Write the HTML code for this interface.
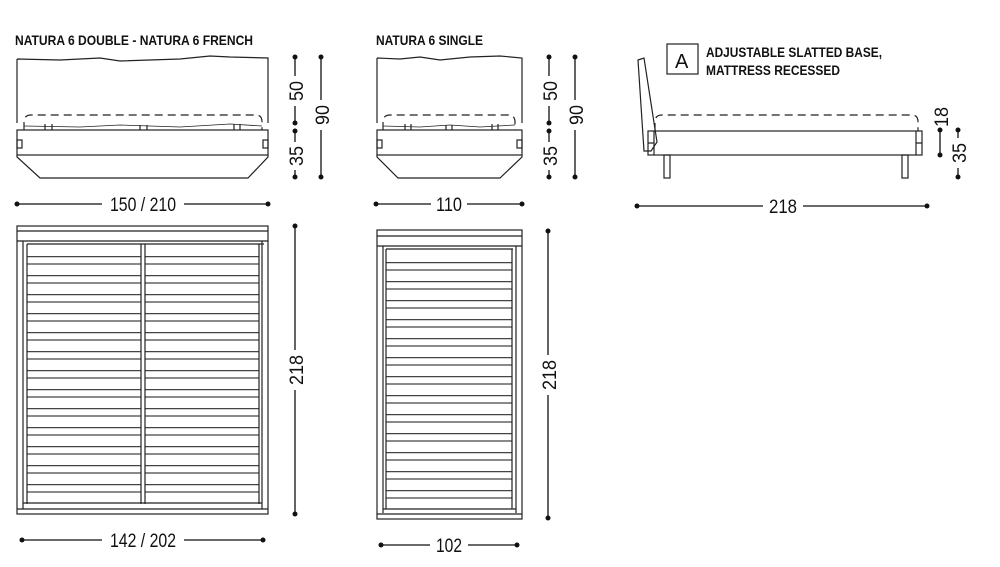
<!DOCTYPE html>
<html><head><meta charset="utf-8"><style>
html,body{margin:0;padding:0;background:#fff;width:1000px;height:567px;overflow:hidden}
svg{display:block}
text{font-family:"Liberation Sans",sans-serif;fill:#111}
</style></head><body>
<svg width="1000" height="567" viewBox="0 0 1000 567" xmlns="http://www.w3.org/2000/svg">
<defs>
<pattern id="sl" x="0" y="256" width="1000" height="19" patternUnits="userSpaceOnUse">
<path d="M0,0.6 H1000 M0,8 H1000" stroke="#444" stroke-width="1.3" fill="none"/>
</pattern>
<pattern id="sl2" x="0" y="262" width="1000" height="19" patternUnits="userSpaceOnUse">
<path d="M0,0.6 H1000 M0,8 H1000" stroke="#444" stroke-width="1.3" fill="none"/>
</pattern>
</defs>
<text x="15" y="45" font-size="14" font-weight="bold" textLength="238" lengthAdjust="spacingAndGlyphs">NATURA 6 DOUBLE - NATURA 6 FRENCH</text>
<text x="376" y="45" font-size="14" font-weight="bold" textLength="107" lengthAdjust="spacingAndGlyphs">NATURA 6 SINGLE</text>

<!-- DOUBLE FRONT -->
<g fill="none" stroke="#222" stroke-width="1.2">
<path d="M17,59 L60,60 L100,58 L120,61 L180,59 L210,56 L230,57 L268,58 L268,123 M17,59 L17,123"/>
<path d="M24,130 L24,122 Q24,115 31,115 L256,115 Q262,115 262,122 L262,130" stroke-dasharray="8,5"/>
<path d="M24,126 L80,127 L120,125 L180,127 L230,124 L262,126" stroke-width="0.8"/>
<rect x="17" y="130" width="251" height="25"/>
<path d="M17,155 L17,157 L40,178 L248,178 L268,157 L268,155"/>
<rect x="17" y="140" width="5" height="8"/><rect x="263" y="140" width="5" height="8"/>
<path d="M45,124 V130 M52,124 V130 M140,125 V130 M147,125 V130 M234,124 V130 M240,124 V130"/>
</g>
<!-- SINGLE FRONT -->
<g fill="none" stroke="#222" stroke-width="1.2">
<path d="M377,58 L400,59 L420,57 L440,60 L470,57 L500,56 L522,58 L522,123 M377,58 L377,123"/>
<path d="M383,130 L383,122 Q383,115 390,115 L508,115 Q515,115 515,122 L515,130" stroke-dasharray="8,5"/>
<path d="M383,126 L420,127 L450,125 L480,127 L515,125" stroke-width="0.8"/>
<rect x="377" y="130" width="145" height="25"/>
<path d="M377,155 L377,157 L398,178 L500,178 L522,157 L522,155"/>
<rect x="377" y="140" width="5" height="8"/><rect x="517" y="140" width="5" height="8"/>
<path d="M405,124 V130 M411,124 V130 M446,125 V130 M452,125 V130 M492,124 V130 M498,124 V130"/>
</g>
<!-- SIDE VIEW -->
<g fill="none" stroke="#222" stroke-width="1.2">
<path d="M638,60 L644,58 L657,142 L651,151 L644,151 Z"/>
<path d="M655,131 L655,122 Q655,115 662,115 L912,115 Q918,115 918,122 L918,131" stroke-dasharray="8,5"/>
<rect x="648" y="131" width="274" height="24"/>
<path d="M654,131 V155 M916,131 V155 M648,143 H654 M916,143 H922"/>
<rect x="664" y="155" width="6" height="23"/><rect x="902" y="155" width="6" height="23"/>
<rect x="667" y="44" width="31" height="30"/>
</g>
<text x="675" y="68" font-size="20">A</text>
<text x="706" y="57" font-size="14" font-weight="bold" textLength="176" lengthAdjust="spacingAndGlyphs">ADJUSTABLE SLATTED BASE,</text>
<text x="706" y="75" font-size="14" font-weight="bold" textLength="134" lengthAdjust="spacingAndGlyphs">MATTRESS RECESSED</text>

<!-- DOUBLE PLAN -->
<rect x="27" y="250" width="114" height="244" fill="url(#sl)"/>
<rect x="145" y="250" width="114" height="244" fill="url(#sl)"/>
<g fill="none" stroke="#222" stroke-width="1.2">
<rect x="17" y="226" width="251" height="288"/>
<path d="M17,231 H268 M17,241 H268 M23,241 V509 M262,241 V509 M27,244 H264 M27,244 V504 M259,244 V504 M141,244 V504 M145,244 V504 M23,503 H262 M17,509 H268"/>
</g>
<!-- SINGLE PLAN -->
<rect x="386" y="256" width="126" height="245" fill="url(#sl2)"/>
<g fill="none" stroke="#222" stroke-width="1.2">
<rect x="377" y="230" width="145" height="289"/>
<path d="M377,236 H522 M377,246 H522 M383,246 V513 M516,246 V513 M386,249 H513 M386,249 V509 M512,249 V509 M383,509 H516 M377,514 H522"/>
</g>

<!-- DIMENSIONS -->
<g stroke="#111" stroke-width="1.3" fill="#111">
<line x1="295" y1="57" x2="295" y2="123"/><line x1="295" y1="131" x2="295" y2="177"/>
<line x1="321" y1="57" x2="321" y2="177"/>
<line x1="549" y1="57" x2="549" y2="123"/><line x1="549" y1="131" x2="549" y2="177"/>
<line x1="575" y1="57" x2="575" y2="177"/>
<line x1="17" y1="204" x2="268" y2="204"/>
<line x1="376" y1="204" x2="522" y2="204"/>
<line x1="637" y1="206" x2="927" y2="206"/>
<line x1="940" y1="130" x2="940" y2="155"/>
<line x1="958" y1="130" x2="958" y2="177"/>
<line x1="295" y1="226" x2="295" y2="514"/>
<line x1="548" y1="231" x2="548" y2="518"/>
<line x1="22" y1="540" x2="263" y2="540"/>
<line x1="381" y1="545" x2="517" y2="545"/>
<g stroke="none">
<circle cx="295" cy="57" r="2.5"/><circle cx="295" cy="123" r="2.5"/><circle cx="295" cy="131" r="2.5"/><circle cx="295" cy="177" r="2.5"/>
<circle cx="321" cy="57" r="2.5"/><circle cx="321" cy="177" r="2.5"/>
<circle cx="549" cy="57" r="2.5"/><circle cx="549" cy="123" r="2.5"/><circle cx="549" cy="131" r="2.5"/><circle cx="549" cy="177" r="2.5"/>
<circle cx="575" cy="57" r="2.5"/><circle cx="575" cy="177" r="2.5"/>
<circle cx="17" cy="204" r="2.5"/><circle cx="268" cy="204" r="2.5"/>
<circle cx="376" cy="204" r="2.5"/><circle cx="522" cy="204" r="2.5"/>
<circle cx="637" cy="206" r="2.5"/><circle cx="927" cy="206" r="2.5"/>
<circle cx="940" cy="130" r="2.5"/><circle cx="940" cy="155" r="2.5"/>
<circle cx="958" cy="130" r="2.5"/><circle cx="958" cy="177" r="2.5"/>
<circle cx="295" cy="226" r="2.5"/><circle cx="295" cy="514" r="2.5"/>
<circle cx="548" cy="231" r="2.5"/><circle cx="548" cy="518" r="2.5"/>
<circle cx="22" cy="540" r="2.5"/><circle cx="263" cy="540" r="2.5"/>
<circle cx="381" cy="545" r="2.5"/><circle cx="517" cy="545" r="2.5"/>
</g>
</g>
<g fill="#fff">
<rect x="287" y="76" width="16" height="30"/><rect x="287" y="142" width="16" height="28"/>
<rect x="313" y="100" width="16" height="30"/>
<rect x="541" y="76" width="16" height="30"/><rect x="541" y="142" width="16" height="28"/>
<rect x="567" y="100" width="16" height="30"/>
<rect x="102" y="196" width="82" height="16"/>
<rect x="431" y="196" width="36" height="16"/>
<rect x="763" y="198" width="40" height="16"/>
<rect x="950" y="138" width="16" height="30"/>
<rect x="287" y="350" width="16" height="40"/>
<rect x="540" y="355" width="16" height="40"/>
<rect x="102" y="532" width="82" height="16"/>
<rect x="430" y="537" width="38" height="16"/>
</g>
<g font-size="19">
<text transform="translate(303,91) rotate(-90)" text-anchor="middle" textLength="20" lengthAdjust="spacingAndGlyphs">50</text>
<text transform="translate(303,156) rotate(-90)" text-anchor="middle" textLength="20" lengthAdjust="spacingAndGlyphs">35</text>
<text transform="translate(329,115) rotate(-90)" text-anchor="middle" textLength="20" lengthAdjust="spacingAndGlyphs">90</text>
<text transform="translate(557,91) rotate(-90)" text-anchor="middle" textLength="20" lengthAdjust="spacingAndGlyphs">50</text>
<text transform="translate(557,156) rotate(-90)" text-anchor="middle" textLength="20" lengthAdjust="spacingAndGlyphs">35</text>
<text transform="translate(583,115) rotate(-90)" text-anchor="middle" textLength="20" lengthAdjust="spacingAndGlyphs">90</text>
<text transform="translate(948,117) rotate(-90)" text-anchor="middle" textLength="20" lengthAdjust="spacingAndGlyphs">18</text>
<text transform="translate(966,153) rotate(-90)" text-anchor="middle" textLength="20" lengthAdjust="spacingAndGlyphs">35</text>
<text transform="translate(303,370) rotate(-90)" text-anchor="middle" textLength="30" lengthAdjust="spacingAndGlyphs">218</text>
<text transform="translate(556,375) rotate(-90)" text-anchor="middle" textLength="30" lengthAdjust="spacingAndGlyphs">218</text>
<text x="143" y="211" text-anchor="middle" textLength="66" lengthAdjust="spacingAndGlyphs">150 / 210</text>
<text x="449" y="211" text-anchor="middle" textLength="26" lengthAdjust="spacingAndGlyphs">110</text>
<text x="783" y="213" text-anchor="middle" textLength="28" lengthAdjust="spacingAndGlyphs">218</text>
<text x="143" y="547" text-anchor="middle" textLength="66" lengthAdjust="spacingAndGlyphs">142 / 202</text>
<text x="449" y="552" text-anchor="middle" textLength="26" lengthAdjust="spacingAndGlyphs">102</text>
</g>
</svg>
</body></html>
